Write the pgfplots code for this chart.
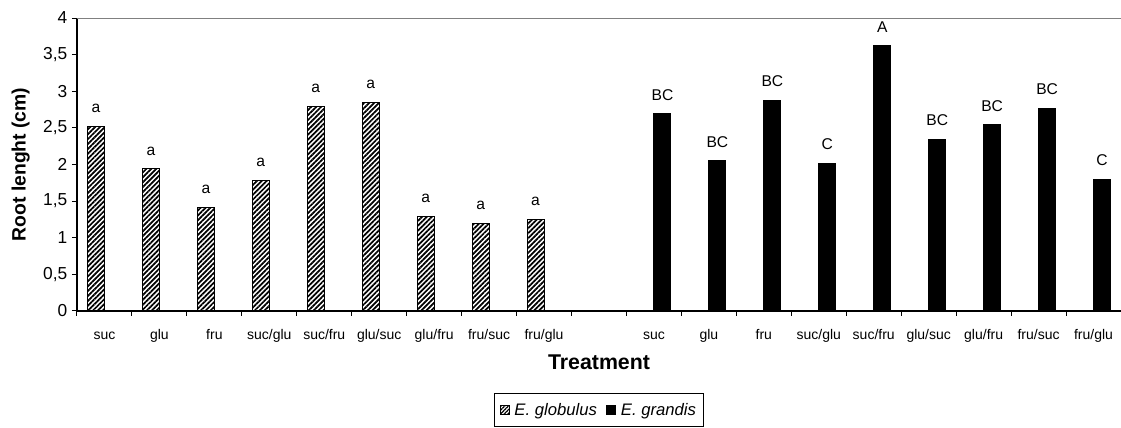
\documentclass[border=0pt]{standalone}
\usepackage{fontspec}
\setmainfont{Liberation Sans}
\usepackage{pgfplots}
\usepackage{pgfplotstable}
\pgfplotsset{compat=1.18}
\usetikzlibrary{patterns.meta}

\pgfplotstableread{
x y lab
0 2.52 a
1 1.94 a
2 1.41 a
3 1.78 a
4 2.79 a
5 2.85 a
6 1.29 a
7 1.20 a
8 1.25 a
}\globulus
\pgfplotstableread{
x y lab
10 2.69 BC
11 2.05 BC
12 2.88 BC
13 2.02 C
14 3.62 A
15 2.34 BC
16 2.54 BC
17 2.77 BC
18 1.80 C
}\grandis

\begin{document}
\begin{tikzpicture}
\begin{axis}[
  scale only axis, width=783pt, height=219.75pt,
  xmin=-0.5, xmax=18.5, ymin=0, ymax=4,
  ybar=0pt, bar width=12.75pt,
  axis x line*=bottom, axis y line*=left,
  axis line style={-, line width=0.9pt},
  tick align=outside,
  tick style={black, line width=0.75pt},
  xtick={0,...,18},
  xticklabels={suc,glu,fru,suc/glu,suc/fru,glu/suc,glu/fru,fru/suc,fru/glu,,suc,glu,fru,suc/glu,suc/fru,glu/suc,glu/fru,fru/suc,fru/glu},
  major x tick style={draw=none},
  minor xtick={-0.5,0.5,...,18.5},
  minor tick length=3.5pt,
  major tick length=3.75pt,
  ytick={0,0.5,...,4},
  yticklabels={0,{0,5},1,{1,5},2,{2,5},3,{3,5},4},
  xticklabel style={font=\fontsize{10.5}{12}\selectfont, anchor=base, yshift=-17.5pt},
  yticklabel style={font=\fontsize{13}{15}\selectfont},
  xlabel={Treatment},
  xlabel style={font=\bfseries\fontsize{16}{18}\selectfont, at={(axis description cs:0.5,-0.174)}, anchor=center},
  ylabel={Root lenght (cm)},
  ylabel style={font=\bfseries\fontsize{14.5}{16}\selectfont, at={(axis description cs:-0.054,0.5)}, anchor=center},
  nodes near coords,
  point meta=explicit symbolic,
  every node near coord/.append style={font=\fontsize{11.7}{13}\selectfont, anchor=base, yshift=10.3pt},
  legend columns=2,
  legend style={at={(axis description cs:0.5,-0.338)}, anchor=center, draw=black, line width=0.75pt,
    font=\itshape\fontsize{12.5}{14}\selectfont, inner xsep=4pt, inner ysep=5pt,
    /tikz/every odd column/.append style={column sep=1.5pt},
    /tikz/every even column/.append style={column sep=5pt}},
  after end axis/.code={\draw[gray, line width=0.75pt] (rel axis cs:0,1) -- (rel axis cs:1,1);},
]
\addplot[draw=black, line width=0.75pt, pattern={Lines[angle=45,distance=2.6pt,line width=1.3pt]}, pattern color=black,
  legend image code/.code={\draw[draw=black, line width=0.5pt, pattern={Lines[angle=45,distance=2pt,line width=1pt]}, pattern color=black] (0pt,-3.4pt) rectangle (6.8pt,3.4pt);}]
  table[x=x, y=y, meta=lab] {\globulus};
\addlegendentry{E. globulus}
\addplot[draw=black, fill=black, line width=0.75pt,
  legend image code/.code={\fill[black] (0pt,-3.4pt) rectangle (6.8pt,3.4pt);}]
  table[x=x, y=y, meta=lab] {\grandis};
\addlegendentry{E. grandis\hspace{7pt}}
\end{axis}
\pgfresetboundingbox
\path[use as bounding box] (-57.75pt,-87.75pt) rectangle (783pt,233.25pt);
\end{tikzpicture}
\end{document}
